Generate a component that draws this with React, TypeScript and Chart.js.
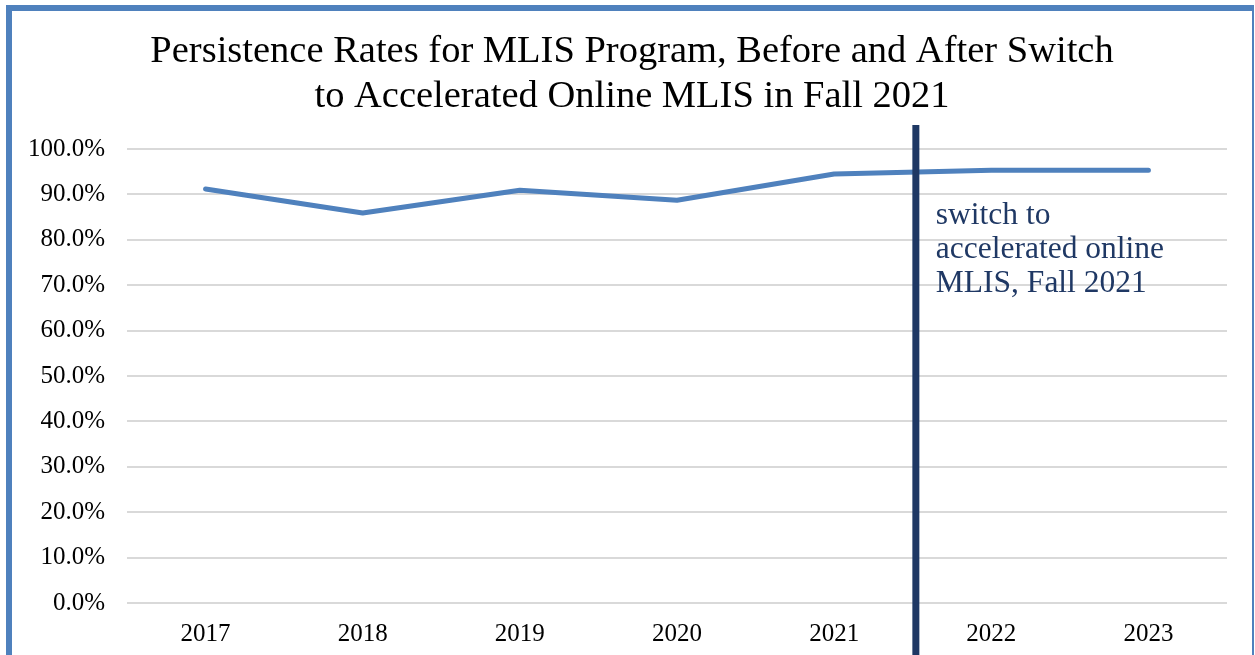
import React, { useEffect, useRef } from "react";
import { Chart, registerables } from "chart.js";

Chart.register(...registerables);

const categories = ["2017", "2018", "2019", "2020", "2021", "2022", "2023"];
const persistenceRates = [91.2, 85.9, 90.9, 88.7, 94.5, 95.3, 95.3];
const yTickValues = [0, 10, 20, 30, 40, 50, 60, 70, 80, 90, 100];
const switchPosition = 4.52; // between 2021 and 2022
const switchLineTop = 105.3;
const annotationLines = ["switch to", "accelerated online", "MLIS, Fall 2021"];
const annotationValue = 85.2;
const titleLines = [
  "Persistence Rates for MLIS Program, Before and After Switch",
  "to Accelerated Online MLIS in Fall 2021",
];

const FONT = "'Liberation Serif', 'DejaVu Serif', serif";
const NAVY = "#1F3864";

const titlePlugin = {
  id: "centeredTitle",
  afterDraw(chart: any) {
    const { ctx } = chart;
    ctx.save();
    ctx.fillStyle = "#000000";
    ctx.font = `38.5px ${FONT}`;
    ctx.textAlign = "center";
    ctx.textBaseline = "middle";
    titleLines.forEach((t, i) => {
      ctx.fillText(t, chart.width / 2, 41 + i * 45);
    });
    ctx.restore();
  },
};

const switchPlugin = {
  id: "switchLine",
  afterDraw(chart: any) {
    const { ctx } = chart;
    const x = chart.scales.x.getPixelForValue(switchPosition);
    const yTop = chart.scales.y.getPixelForValue(switchLineTop);
    ctx.save();
    ctx.strokeStyle = NAVY;
    ctx.lineWidth = 7;
    ctx.beginPath();
    ctx.moveTo(x, yTop);
    ctx.lineTo(x, chart.height);
    ctx.stroke();
    ctx.fillStyle = NAVY;
    ctx.font = `31.5px ${FONT}`;
    ctx.textAlign = "left";
    ctx.textBaseline = "middle";
    const y0 = chart.scales.y.getPixelForValue(annotationValue);
    annotationLines.forEach((t, i) => {
      ctx.fillText(t, x + 20, y0 + i * 34);
    });
    ctx.restore();
  },
};

export default function App() {
  const ref = useRef<HTMLCanvasElement | null>(null);
  useEffect(() => {
    if (!ref.current) return;
    const chart = new Chart(ref.current, {
      type: "line",
      data: {
        labels: categories,
        datasets: [
          {
            data: persistenceRates,
            borderColor: "#4F81BD",
            borderWidth: 5,
            borderCapStyle: "round",
            borderJoinStyle: "round",
            pointRadius: 0,
            tension: 0,
          },
        ],
      },
      options: {
        animation: false,
        responsive: false,
        layout: { padding: { left: 0, right: 25, top: 138, bottom: 0 } },
        plugins: {
          legend: { display: false },
          tooltip: { enabled: false },
          title: { display: false },
        },
        scales: {
          x: {
            offset: true,
            grid: { display: false },
            border: { display: false },
            ticks: {
              color: "#000000",
              font: { family: FONT, size: 25 },
              padding: 8,
              maxRotation: 0,
            },
          },
          y: {
            min: 0,
            max: 100,
            afterBuildTicks(scale: any) {
              scale.ticks = yTickValues.map((v) => ({ value: v }));
            },
            afterFit(scale: any) {
              scale.width = 115;
            },
            grid: { color: "#D9D9D9", lineWidth: 2, drawTicks: false },
            border: { display: false },
            ticks: {
              color: "#000000",
              font: { family: FONT, size: 25 },
              padding: 22,
              callback: (v: any) => Number(v).toFixed(1) + "%",
            },
          },
        },
      },
      plugins: [titlePlugin, switchPlugin],
    });
    return () => chart.destroy();
  }, []);

  return (
    <div
      style={{
        position: "fixed",
        left: 6,
        top: 5,
        width: 1248,
        height: 650,
        boxSizing: "border-box",
        borderLeft: "6px solid #4F81BD",
        borderTop: "6px solid #4F81BD",
        borderRight: "2px solid #4F81BD",
        background: "#FFFFFF",
        overflow: "hidden",
      }}
    >
      <canvas ref={ref} width={1240} height={646} style={{ display: "block" }} />
    </div>
  );
}
